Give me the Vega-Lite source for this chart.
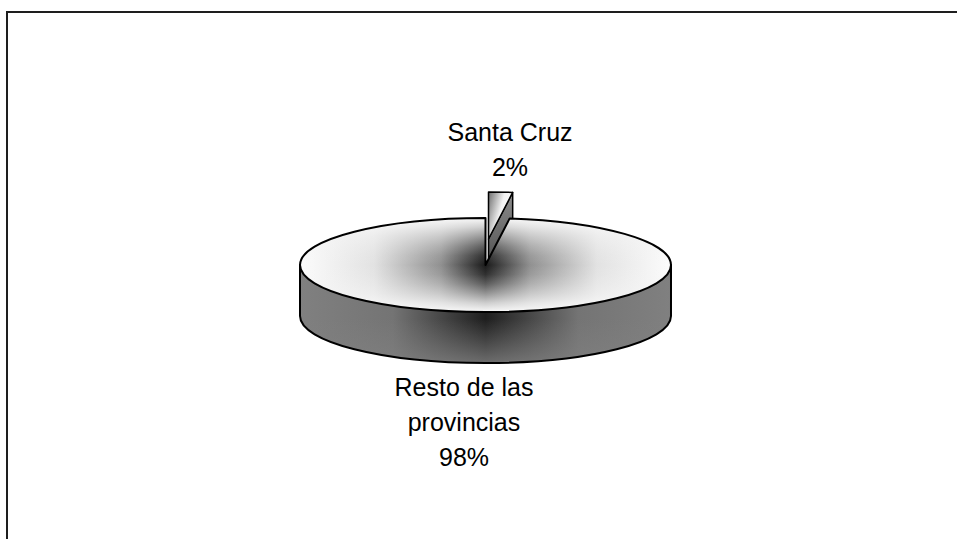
{
  "$schema": "https://vega.github.io/schema/vega-lite/v6.json",
  "width": 952,
  "height": 529,
  "autosize": {"type": "none"},
  "padding": {"left": 7, "top": 12, "right": -2, "bottom": -2},
  "background": "white",
  "view": {"stroke": "#1e1e1e", "strokeWidth": 2, "fill": "white"},
  "data": {
    "values": [
      {"region": "Santa Cruz", "share": 2},
      {"region": "Resto de las provincias", "share": 98}
    ]
  },
  "layer": [
    {
      "transform": [{"filter": "datum.region === 'Resto de las provincias'"}],
      "mark": {
        "type": "point",
        "filled": true,
        "opacity": 1,
        "size": 4,
        "strokeWidth": 0,
        "shape": "M -183 -11.5 L -183 39.5 C -183 65.46 -99.95 86.5 2.5 86.5 C 104.95 86.5 188 65.46 188 39.5 L 188 -11.5 Z",
        "fill": {
          "gradient": "linear", "x1": 0, "y1": 0, "x2": 1, "y2": 0,
          "stops": [
            {"offset": 0, "color": "#808080"},
            {"offset": 0.25, "color": "#747474"},
            {"offset": 0.5, "color": "#1e1e1e"},
            {"offset": 0.75, "color": "#747474"},
            {"offset": 1, "color": "#808080"}
          ]
        }
      },
      "encoding": {}
    },
    {
      "transform": [{"filter": "datum.region === 'Resto de las provincias'"}],
      "mark": {
        "type": "point",
        "filled": true,
        "opacity": 1,
        "size": 4,
        "stroke": "black",
        "strokeWidth": 2,
        "strokeOpacity": 1,
        "strokeJoin": "round",
        "shape": "M -183 -11.5 L -183 39.5 C -183 65.46 -99.95 86.5 2.5 86.5 C 104.95 86.5 188 65.46 188 39.5 L 188 -11.5 Z",
        "fill": {
          "gradient": "linear", "x1": 0, "y1": 0, "x2": 0, "y2": 1,
          "stops": [
            {"offset": 0, "color": "rgba(128,128,128,0)"},
            {"offset": 0.55, "color": "rgba(128,128,128,0)"},
            {"offset": 0.75, "color": "rgba(128,128,128,0.35)"},
            {"offset": 1, "color": "rgba(128,128,128,0.8)"}
          ]
        }
      },
      "encoding": {}
    },
    {
      "transform": [{"filter": "datum.region === 'Santa Cruz'"}],
      "mark": {
        "type": "point",
        "filled": true,
        "opacity": 1,
        "size": 4,
        "stroke": "black",
        "strokeWidth": 1.5,
        "strokeJoin": "round",
        "shape": "M 5.5 -37.5 L 29.68 -84.11 L 29.68 -33.11 L 5.5 13.5 Z",
        "fill": {
          "gradient": "linear", "x1": 0, "y1": 0, "x2": 0, "y2": 1,
          "stops": [
            {"offset": 0, "color": "#8c8c8c"},
            {"offset": 1, "color": "#3c3c3c"}
          ]
        }
      },
      "encoding": {}
    },
    {
      "transform": [{"filter": "datum.region === 'Santa Cruz'"}],
      "mark": {
        "type": "point",
        "filled": true,
        "opacity": 1,
        "size": 4,
        "stroke": "black",
        "strokeWidth": 1.5,
        "strokeJoin": "round",
        "shape": "M 5.5 -37.5 L 5.5 -84.5 L 29.68 -84.11 Z",
        "fill": {
          "gradient": "linear", "x1": 0, "y1": 0, "x2": 1, "y2": 0.5,
          "stops": [
            {"offset": 0, "color": "#6e6e6e"},
            {"offset": 0.55, "color": "#f2f2f2"},
            {"offset": 1, "color": "#ffffff"}
          ]
        }
      },
      "encoding": {}
    },
    {
      "transform": [{"filter": "datum.region === 'Resto de las provincias'"}],
      "mark": {
        "type": "point",
        "filled": true,
        "opacity": 1,
        "size": 4,
        "strokeWidth": 0,
        "shape": "M 2.5 -11.5 L 26.68 -58.11 C 117.7 -55.1 188 -35.38 188 -11.5 C 188 14.46 104.95 35.5 2.5 35.5 C -99.95 35.5 -183 14.46 -183 -11.5 C -183 -37.46 -99.95 -58.5 2.5 -58.5 Z",
        "fill": {
          "gradient": "linear", "x1": 0, "y1": 0, "x2": 1, "y2": 0,
          "stops": [
            {"offset": 0, "color": "#fcfcfc"},
            {"offset": 0.2, "color": "#e2e2e2"},
            {"offset": 0.38, "color": "#909090"},
            {"offset": 0.5, "color": "#1a1a1a"},
            {"offset": 0.62, "color": "#909090"},
            {"offset": 0.8, "color": "#e2e2e2"},
            {"offset": 1, "color": "#fcfcfc"}
          ]
        }
      },
      "encoding": {}
    },
    {
      "transform": [{"filter": "datum.region === 'Resto de las provincias'"}],
      "mark": {
        "type": "point",
        "filled": true,
        "opacity": 1,
        "size": 4,
        "stroke": "black",
        "strokeWidth": 2,
        "strokeOpacity": 1,
        "strokeJoin": "round",
        "shape": "M 2.5 -11.5 L 26.68 -58.11 C 117.7 -55.1 188 -35.38 188 -11.5 C 188 14.46 104.95 35.5 2.5 35.5 C -99.95 35.5 -183 14.46 -183 -11.5 C -183 -37.46 -99.95 -58.5 2.5 -58.5 Z",
        "fill": {
          "gradient": "linear", "x1": 0, "y1": 0, "x2": 0, "y2": 1,
          "stops": [
            {"offset": 0, "color": "rgba(250,250,250,1)"},
            {"offset": 0.1, "color": "rgba(248,248,248,0.8)"},
            {"offset": 0.2, "color": "rgba(245,245,245,0.55)"},
            {"offset": 0.3, "color": "rgba(245,245,245,0.3)"},
            {"offset": 0.4, "color": "rgba(245,245,245,0.1)"},
            {"offset": 0.5, "color": "rgba(245,245,245,0)"},
            {"offset": 0.6, "color": "rgba(245,245,245,0.1)"},
            {"offset": 0.7, "color": "rgba(245,245,245,0.3)"},
            {"offset": 0.8, "color": "rgba(245,245,245,0.55)"},
            {"offset": 0.9, "color": "rgba(248,248,248,0.8)"},
            {"offset": 1, "color": "rgba(250,250,250,1)"}
          ]
        }
      },
      "encoding": {}
    },
    {
      "transform": [
        {"calculate": "replace(datum.region, ' provincias', '\\nprovincias') + '\\n' + datum.share + '%'", "as": "label"}
      ],
      "mark": {
        "type": "text",
        "radius": 129.1,
        "dx": 4,
        "dy": -16,
        "font": "Liberation Sans",
        "fontSize": 25,
        "lineHeight": 35,
        "align": "center",
        "baseline": "middle",
        "lineBreak": "\n",
        "color": "black"
      },
      "encoding": {
        "theta": {
          "field": "share",
          "type": "quantitative",
          "stack": true,
          "scale": {"range": [0.1163, 6.3995]}
        },
        "order": {"field": "share", "sort": "ascending"},
        "text": {"field": "label", "type": "nominal"}
      }
    }
  ]
}
